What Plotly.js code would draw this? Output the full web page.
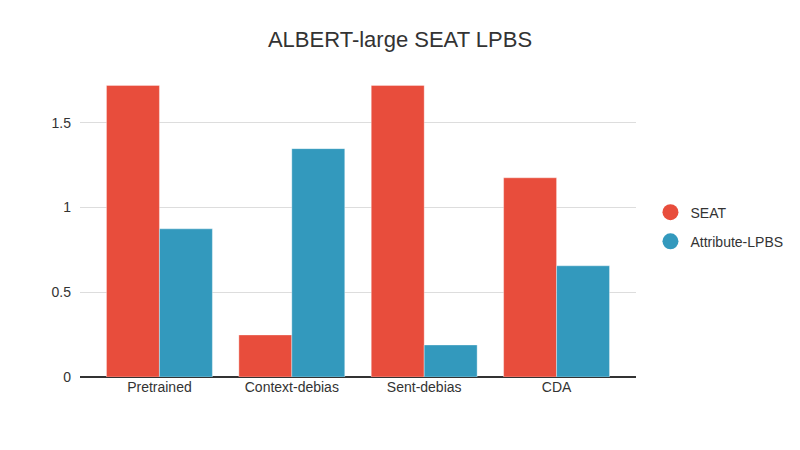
<!DOCTYPE html>
<html>
<head>
<meta charset="utf-8">
<script src="https://cdn.plot.ly/plotly-3.0.1.min.js"></script>
<style>html,body{margin:0;padding:0;background:#fff;}#chart{width:800px;height:450px;}</style>
</head>
<body>
<div id="chart"></div>
<script>
const categories = ["Pretrained", "Context-debias", "Sent-debias", "CDA"];
const seatValues = [1.72, 0.248, 1.72, 1.175];
const lpbsValues = [0.874, 1.347, 0.189, 0.656];
const seriesNames = ["SEAT", "Attribute-LPBS"];
const seriesColors = ["#E84D3C", "#3399BD"];
const yTickVals = [0, 0.5, 1, 1.5];
const yTickText = ["0", "0.5", "1", "1.5"];

const barTraces = [seatValues, lpbsValues].map((vals, i) => ({
  type: "bar",
  x: categories,
  y: vals,
  name: seriesNames[i],
  legendgroup: seriesNames[i],
  showlegend: false,
  marker: {color: seriesColors[i], line: {color: "rgba(255,255,255,0.35)", width: 1}},
  hoverinfo: "x+y+name"
}));

const legendTraces = seriesNames.map((name, i) => ({
  type: "scatter",
  mode: "markers",
  x: [null],
  y: [null],
  name: name,
  legendgroup: name,
  showlegend: true,
  marker: {color: seriesColors[i], size: 16, symbol: "circle"}
}));

const layout = {
  width: 800,
  height: 450,
  paper_bgcolor: "#fff",
  plot_bgcolor: "#fff",
  font: {family: "Liberation Sans, Arial, sans-serif", size: 14, color: "#333"},
  title: {text: "ALBERT-large SEAT LPBS", font: {size: 22, color: "#333"}, x: 0.5, xanchor: "center", y: 0.912, yanchor: "middle"},
  margin: {l: 80, r: 164, t: 71, b: 73, autoexpand: false},
  barmode: "group",
  bargap: 0.2,
  bargroupgap: 0,
  showlegend: true,
  legend: {x: 1.026, xanchor: "left", y: 0.49, yanchor: "middle", font: {size: 14, color: "#333"},
           traceorder: "grouped", tracegroupgap: 8, itemsizing: "trace"},
  xaxis: {type: "category", range: [-0.6, 3.6], showgrid: false, ticks: "", showline: false, zeroline: false,
          tickfont: {size: 14, color: "#333"}},
  yaxis: {range: [0, 1.805], tickvals: yTickVals, ticktext: yTickText, showgrid: true, gridcolor: "#ddd", gridwidth: 1,
          zeroline: true, zerolinecolor: "#333", zerolinewidth: 2, ticks: "", ticklen: 0, ticklabelstandoff: 8,
          tickfont: {size: 14, color: "#333"}, showline: false}
};

Plotly.newPlot("chart", barTraces.concat(legendTraces), layout, {displayModeBar: false, staticPlot: true});
</script>
</body>
</html>
